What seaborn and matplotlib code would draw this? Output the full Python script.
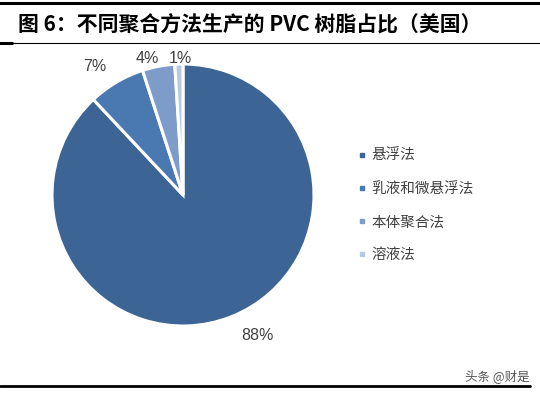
import matplotlib
matplotlib.use("Agg")
import matplotlib.pyplot as plt
import seaborn as sns
from matplotlib.lines import Line2D

# 数据
methods = ["悬浮法", "乳液和微悬浮法", "本体聚合法", "溶液法"]
shares = [88, 7, 4, 1]
colors = ["#3C6495", "#4A78B0", "#7E9CC9", "#B9C9E2"]
# 百分比标签位置（以半径为单位）
label_pos = [(0.57, -1.07), (-0.67, 0.98), (-0.27, 1.04), (-0.02, 1.04)]

sns.set_style("white")
plt.rcParams["font.family"] = ["Noto Sans CJK SC", "DejaVu Sans"]

W, H = 540, 393
fig = plt.figure(figsize=(W / 100, H / 100), dpi=100)

# 饼图位置 (像素 -> 图坐标)
cx, cy, r = 183, 195, 131
ax = fig.add_axes([(cx - r) / W, (H - cy - r) / H, 2 * r / W, 2 * r / H])
wedges, texts, autotexts = ax.pie(
    shares, colors=colors, startangle=90, counterclock=False,
    autopct="%d%%", pctdistance=1.13,
    wedgeprops=dict(edgecolor="white", linewidth=2.2),
    textprops=dict(color="#404040", fontsize=11.5, family=["Liberation Sans"]),
)
for t, p in zip(autotexts, label_pos):
    t.set_position(p)
ax.set_xlim(-1, 1)
ax.set_ylim(-1, 1)
ax.set_aspect("equal")

handles = [Line2D([0], [0], marker="s", linestyle="", markersize=3.5,
                  markerfacecolor=c, markeredgecolor=c) for c in colors]
fig.legend(handles, methods, loc="upper left", bbox_to_anchor=(344 / W, 1 - 136 / H),
           frameon=False, fontsize=10.5, labelspacing=1.3, handlelength=0.6,
           handletextpad=0.4, labelcolor="#404040")

# 标题与线条
fig.text(18 / W, 1 - 25 / H, "图 6：不同聚合方法生产的 PVC 树脂占比（美国）",
         fontsize=15, fontweight="bold", va="center", ha="left", color="black")
fig.add_artist(Line2D([0, 1], [1 - 3 / H, 1 - 3 / H], color="black", lw=2.2))
fig.add_artist(Line2D([0, 1], [1 - 43 / H, 1 - 43 / H], color="black", lw=0.8))
fig.add_artist(Line2D([0, 12 / W], [1 - 43 / H, 1 - 43 / H], color="black", lw=2.2))
fig.add_artist(Line2D([0, 530 / W], [1 - 386 / H, 1 - 386 / H], color="black", lw=2))
fig.text(530 / W, 1 - 376 / H, "头条 @财是", fontsize=9, color="#555555",
         ha="right", va="center")

fig.savefig("out.png", dpi=100)
